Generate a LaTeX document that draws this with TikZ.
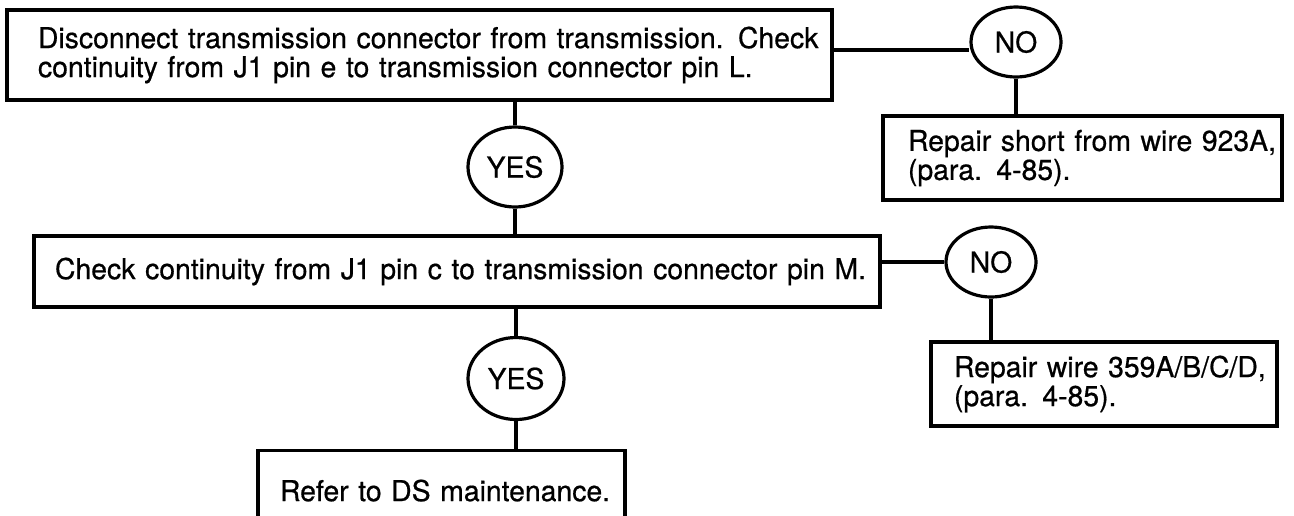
\documentclass[tikz,border=0pt]{standalone}
\usepackage{fontspec}
\setmainfont[FakeStretch=0.985, FakeBold=0.6]{TeX Gyre Heros}
\usetikzlibrary{shapes.geometric, positioning}

\tikzset{
    stepbox/.style={draw, line width=1.6pt, align=left, inner xsep=11pt, inner ysep=0pt,
        font=\fontsize{14.4}{14.5}\selectfont},
    answer/.style={draw, ellipse, line width=1.6pt, inner sep=0pt,
        font=\fontsize{14.4}{14.5}\selectfont},
    link/.style={line width=1.6pt}
}

\begin{document}
\begin{tikzpicture}[x=0.5pt, y=-0.5pt]
    \clip (0,0) rectangle (1294,515);

    % First check
    \node[stepbox, inner xsep=15.5pt, text width=381.5pt, minimum height=45pt] (checkE) at (419.5,55)
        {\mbox{Disconnect transmission connector from transmission. Check}\\\mbox{continuity from J1 pin e to transmission connector pin L.}};
    \node[answer, minimum width=45pt, minimum height=35pt] (noE) at (1016,42) {NO};
    \node[stepbox, inner xsep=12.5pt, text width=174.5pt, minimum height=42pt] (fixShort) at (1082.5,158)
        {\mbox{Repair short from wire 923A,}\\(para. 4-85).};
    \node[answer, minimum width=47pt, minimum height=40pt] (yesE) at (515,167) {YES};

    % Second check
    \node[stepbox, inner xsep=10.5pt, text width=402pt, minimum height=35.5pt] (checkC) at (457,271.5)
        {\mbox{Check continuity from J1 pin c to transmission connector pin M.}};
    \node[answer, minimum width=45pt, minimum height=35pt] (noC) at (991,262) {NO};
    \node[stepbox, inner xsep=11.5pt, text width=150pt, minimum height=42pt] (fixWire) at (1104,384)
        {\mbox{Repair wire 359A/B/C/D,}\\(para. 4-85).};
    \node[answer, minimum width=48pt, minimum height=41pt] (yesC) at (516,378.5) {YES};
    \node[stepbox, text width=161.5pt, minimum height=40pt, anchor=north] (refDS) at (441.5,449)
        {\mbox{Refer to DS maintenance.}};

    % Connectors
    \draw[link] (checkE.east |- 0,50) -- (noE.west |- 0,50);
    \draw[link] (noE.south) -- (noE.south |- fixShort.north);
    \draw[link] (yesE.north |- checkE.south) -- (yesE.north);
    \draw[link] (yesE.south) -- (yesE.south |- checkC.north);
    \draw[link] (checkC.east |- noC.west) -- (noC.west);
    \draw[link] (noC.south) -- (noC.south |- fixWire.north);
    \draw[link] (yesC.north |- checkC.south) -- (yesC.north);
    \draw[link] (yesC.south) -- (yesC.south |- refDS.north);
\end{tikzpicture}
\end{document}
